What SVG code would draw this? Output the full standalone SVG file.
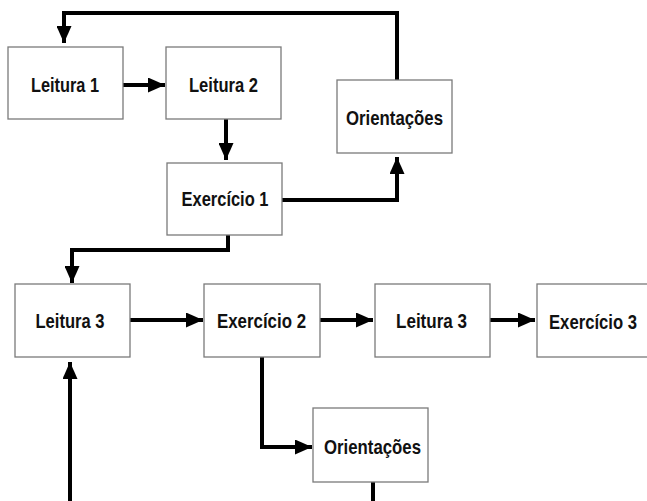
<svg xmlns="http://www.w3.org/2000/svg" width="647" height="501" viewBox="0 0 647 501">
  <style>
    .box { fill: #ffffff; stroke: #7a7a7a; stroke-width: 1.3; }
    .label { font-family: "Liberation Sans", Arial, sans-serif; font-weight: bold; font-size: 20.5px; fill: #111111; text-anchor: middle; }
    .wire { fill: none; stroke: #000000; stroke-width: 4; stroke-linejoin: miter; }
  </style>
  <defs>
    <marker id="head" markerUnits="userSpaceOnUse" viewBox="0 0 17 15" refX="17" refY="7.5" markerWidth="17" markerHeight="15" orient="auto">
      <path d="M0,0 L17,7.5 L0,15 Z" fill="#000000"/>
    </marker>
  </defs>
  <rect width="647" height="501" fill="#ffffff"/>

  <g id="connectors">
    <!-- Orientações (top) back to Leitura 1 -->
    <path class="wire" d="M397,80 V13 H64 V43" marker-end="url(#head)"/>
    <!-- Leitura 1 to Leitura 2 -->
    <path class="wire" d="M123,85 H165" marker-end="url(#head)"/>
    <!-- Leitura 2 to Exercício 1 -->
    <path class="wire" d="M226,119 V160" marker-end="url(#head)"/>
    <!-- Exercício 1 to Orientações (top) -->
    <path class="wire" d="M282,200 H397 V157" marker-end="url(#head)"/>
    <!-- Exercício 1 down to Leitura 3 -->
    <path class="wire" d="M228,235 V250 H72 V283" marker-end="url(#head)"/>
    <!-- Leitura 3 to Exercício 2 -->
    <path class="wire" d="M130,320 H203" marker-end="url(#head)"/>
    <!-- Exercício 2 to Leitura 3 (second) -->
    <path class="wire" d="M320,320 H373" marker-end="url(#head)"/>
    <!-- Leitura 3 (second) to Exercício 3 -->
    <path class="wire" d="M490,320 H535" marker-end="url(#head)"/>
    <!-- Exercício 2 to Orientações (bottom) -->
    <path class="wire" d="M262,357 V447 H312" marker-end="url(#head)"/>
    <!-- Orientações (bottom) back to Leitura 3 -->
    <path class="wire" d="M373,482 V503 H70 V362" marker-end="url(#head)"/>
  </g>

  <g id="leitura1">
    <rect class="box" x="8" y="47" width="115" height="72"/>
    <text class="label" x="65" y="92" textLength="68" lengthAdjust="spacingAndGlyphs">Leitura 1</text>
  </g>
  <g id="leitura2">
    <rect class="box" x="166" y="47" width="115" height="72"/>
    <text class="label" x="223.5" y="92" textLength="69" lengthAdjust="spacingAndGlyphs">Leitura 2</text>
  </g>
  <g id="orientacoes1">
    <rect class="box" x="337" y="80" width="115" height="73"/>
    <text class="label" x="394.5" y="125" textLength="97" lengthAdjust="spacingAndGlyphs">Orientações</text>
  </g>
  <g id="exercicio1">
    <rect class="box" x="167" y="163" width="115" height="72"/>
    <text class="label" x="225" y="206" textLength="87" lengthAdjust="spacingAndGlyphs">Exercício 1</text>
  </g>
  <g id="leitura3">
    <rect class="box" x="15" y="284" width="115" height="73"/>
    <text class="label" x="70" y="328" textLength="69" lengthAdjust="spacingAndGlyphs">Leitura 3</text>
  </g>
  <g id="exercicio2">
    <rect class="box" x="204" y="284" width="116" height="73"/>
    <text class="label" x="261.5" y="328" textLength="89" lengthAdjust="spacingAndGlyphs">Exercício 2</text>
  </g>
  <g id="leitura3b">
    <rect class="box" x="375" y="284" width="115" height="73"/>
    <text class="label" x="431.5" y="328" textLength="71" lengthAdjust="spacingAndGlyphs">Leitura 3</text>
  </g>
  <g id="exercicio3">
    <rect class="box" x="537" y="284" width="115" height="73"/>
    <text class="label" x="593" y="329" textLength="88" lengthAdjust="spacingAndGlyphs">Exercício 3</text>
  </g>
  <g id="orientacoes2">
    <rect class="box" x="313" y="408" width="115" height="74"/>
    <text class="label" x="372.5" y="454" textLength="97" lengthAdjust="spacingAndGlyphs">Orientações</text>
  </g>
</svg>
